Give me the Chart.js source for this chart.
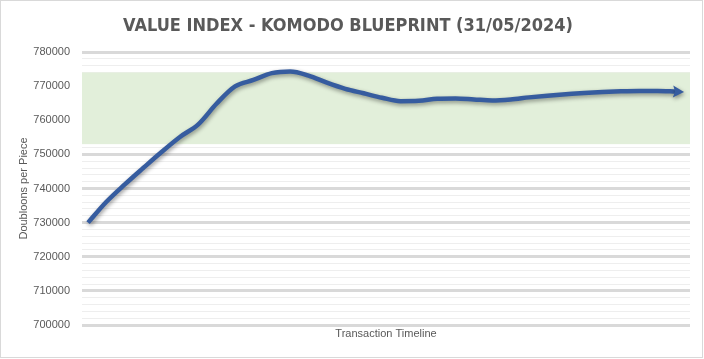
<!DOCTYPE html>
<html>
<head>
<meta charset="utf-8">
<script src="https://cdn.jsdelivr.net/npm/chart.js@4.4.1/dist/chart.umd.min.js"></script>
<style>
  html, body { margin: 0; padding: 0; background: #ffffff; }
  #wrap { width: 704px; height: 359px; position: relative; }
</style>
</head>
<body>
<div id="wrap"><canvas id="valueChart"></canvas></div>
<script>
// transaction steps along the timeline (no dates shown on the axis)
const timeline = [0, 1, 2, 3, 4, 5, 6, 7, 8, 9, 10, 11, 12, 13, 14, 15, 16,
  17, 18, 19, 20, 21, 22, 23, 24, 25, 26, 27, 28, 29, 30, 31, 32];

const indexValues = [730000, 736100, 741200, 746000, 750700, 755100, 758800,
  764900, 769900, 771800, 773800, 774300, 773100, 771000, 769200, 767900,
  766600, 765600, 765700, 766300, 766400, 766100, 765800, 766100, 766700,
  767200, 767600, 768000, 768300, 768500, 768600, 768600, 768400];

const yMin = 700000;
const yMax = 780000;
const minorStep = 2000;
const majorStep = 10000;

// shaded target range
const bandLow = 753000;
const bandHigh = 774000;

const LINE_COLOR = "#365c9f";
const TEXT_COLOR = "#595959";
const BODY_FONT = "'Liberation Sans', 'DejaVu Sans', sans-serif";

const bandPlugin = {
  id: "band",
  beforeDatasetsDraw(chart) {
    const { ctx, chartArea, scales } = chart;
    const top = scales.y.getPixelForValue(bandHigh);
    const bottom = scales.y.getPixelForValue(bandLow);
    ctx.save();
    ctx.fillStyle = "#e2efda";
    ctx.fillRect(chartArea.left, top, chartArea.width, bottom - top);
    ctx.restore();
  },
};

const shadowPlugin = {
  id: "lineShadow",
  beforeDatasetDraw(chart) {
    const ctx = chart.ctx;
    ctx.save();
    ctx.shadowColor = "rgba(0, 0, 0, 0.4)";
    ctx.shadowBlur = 4;
    ctx.shadowOffsetX = 1;
    ctx.shadowOffsetY = 2;
  },
  afterDatasetDraw(chart) {
    chart.ctx.restore();
  },
};

const arrowPlugin = {
  id: "arrowHead",
  afterDatasetsDraw(chart) {
    const pts = chart.getDatasetMeta(0).data;
    const last = pts[pts.length - 1];
    const prev = pts[pts.length - 2];
    const angle = Math.atan2(last.y - prev.y, last.x - prev.x);
    const ctx = chart.ctx;
    ctx.save();
    ctx.translate(last.x, last.y);
    ctx.rotate(angle);
    ctx.shadowColor = "rgba(0, 0, 0, 0.4)";
    ctx.shadowBlur = 4;
    ctx.shadowOffsetX = 1;
    ctx.shadowOffsetY = 2;
    ctx.fillStyle = LINE_COLOR;
    ctx.beginPath();
    ctx.moveTo(8, 0);
    ctx.lineTo(-3, -6);
    ctx.lineTo(-1, 0);
    ctx.lineTo(-3, 6);
    ctx.closePath();
    ctx.fill();
    ctx.restore();
  },
};

const framePlugin = {
  id: "frame",
  afterDraw(chart) {
    const ctx = chart.ctx;
    ctx.save();
    ctx.strokeStyle = "#d9d9d9";
    ctx.lineWidth = 1;
    ctx.strokeRect(0.5, 0.5, chart.width - 2, chart.height - 2);
    ctx.restore();
  },
};

const isMajor = (value) => value % majorStep === 0;

new Chart(document.getElementById("valueChart"), {
  type: "line",
  data: {
    datasets: [
      {
        data: timeline.map((t, i) => ({ x: t, y: indexValues[i] })),
        borderColor: LINE_COLOR,
        borderWidth: 4.5,
        pointRadius: 0,
        cubicInterpolationMode: "monotone",
        fill: false,
      },
    ],
  },
  options: {
    responsive: true,
    maintainAspectRatio: false,
    animation: false,
    layout: { padding: { left: 6, right: 14, top: 0, bottom: 0 } },
    plugins: {
      legend: { display: false },
      tooltip: { enabled: false },
      title: {
        display: true,
        text: "VALUE INDEX - KOMODO BLUEPRINT (31/05/2024)",
        color: TEXT_COLOR,
        font: { family: "'Liberation Sans Narrow', 'DejaVu Sans Condensed', sans-serif", size: 18, weight: "bold" },
        padding: { top: 15.6, bottom: 14.8 },
      },
    },
    scales: {
      x: {
        type: "linear",
        min: -0.33,
        max: 32.76,
        grid: { display: false },
        border: { display: false },
        ticks: { display: false },
        title: {
          display: true,
          text: "Transaction Timeline",
          color: TEXT_COLOR,
          font: { family: BODY_FONT, size: 11 },
          padding: { top: 0, bottom: 18 },
        },
        afterFit(scale) {
          scale.height = 34;
        },
      },
      y: {
        min: yMin,
        max: yMax,
        border: { display: false },
        grid: {
          drawTicks: false,
          color: (c) => (c.tick && isMajor(c.tick.value) ? "#d9d9d9" : "#eeeeee"),
          lineWidth: (c) => (c.tick && isMajor(c.tick.value) ? 3 : 1),
        },
        ticks: {
          stepSize: minorStep,
          autoSkip: false,
          padding: 12,
          color: TEXT_COLOR,
          font: { family: BODY_FONT, size: 11 },
          callback: (value) => (isMajor(value) ? String(value) : ""),
        },
        title: {
          display: true,
          text: "Doubloons per Piece",
          color: TEXT_COLOR,
          font: { family: BODY_FONT, size: 11 },
          padding: { top: 11, bottom: 0 },
        },
        afterFit(scale) {
          scale.width = 76;
        },
      },
    },
  },
  plugins: [bandPlugin, shadowPlugin, arrowPlugin, framePlugin],
});
</script>
</body>
</html>
